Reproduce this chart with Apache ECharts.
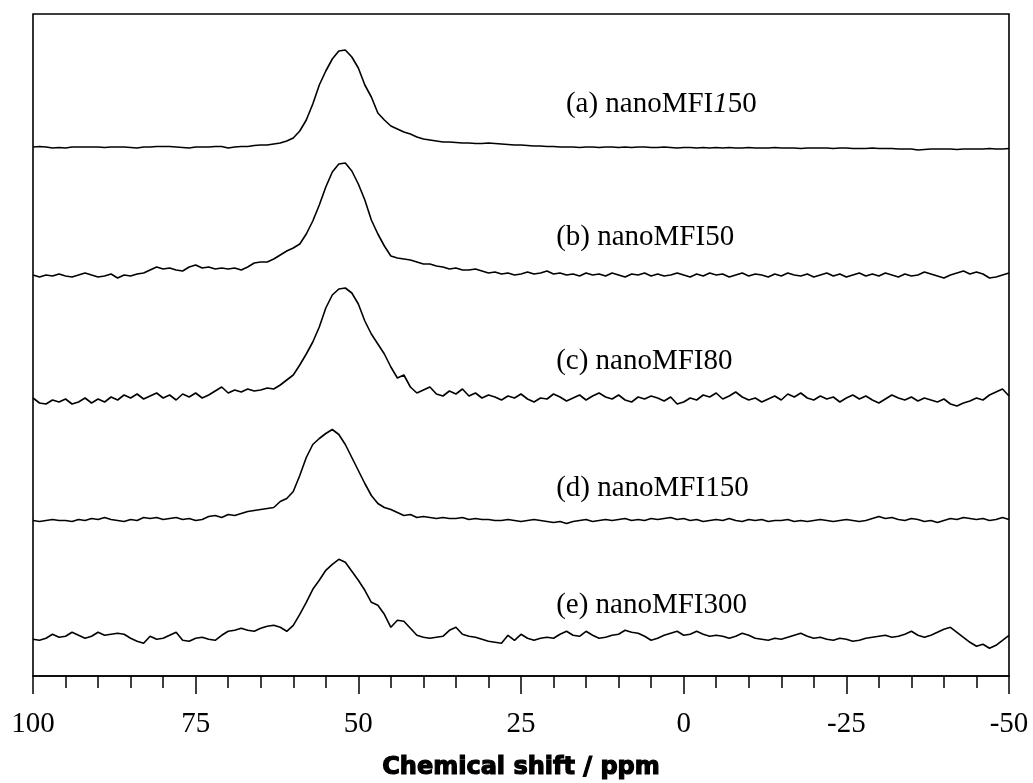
<!DOCTYPE html>
<html>
<head>
<meta charset="utf-8">
<title>NMR spectra</title>
<script src="https://cdn.jsdelivr.net/npm/echarts@6/dist/echarts.min.js"></script>
<style>
  html, body { margin: 0; padding: 0; background: #fff; }
  #chart { width: 1033px; height: 783px; }
</style>
</head>
<body>
<div id="chart"></div>
<script>
// chemical shift axis, 1 ppm steps from 100 down to -50
var ppm = [];
for (var p = 100; p >= -50; p--) ppm.push(p);

// intensities, relative to each trace's own baseline
var specA = [
  0, 0.5, 0, -1, -0.5, -1, 0, 0, 0, 0,
  0, -0.5, 0, 0, 0, -0.5, -1, 0, 0, 0.5,
  0.5, 0.5, 0, -0.5, -1, 0, 0, 0, 0.5, 0.5,
  -1, 0, 0.5, 0.5, 1.5, 2, 2, 3, 4, 6,
  9, 16, 27, 43, 62, 76, 88, 96, 97, 90,
  79, 62, 50, 34, 27, 21, 18, 15, 13, 10,
  8, 7, 6, 5, 5, 4.5, 4, 4, 3.5, 3.5,
  4, 3.5, 3, 2.5, 2, 2, 1.5, 1, 1, 0.5,
  0.5, 0, 0, 0, -0.5, 0, 0, -0.5, 0, 0,
  -0.5, 0, -0.5, 0, 0, -0.5, -0.5, 0, -0.5, -1,
  -0.5, -0.5, -1, -0.5, -1, -0.5, -1, -0.5, -1, -1,
  -0.5, -1, -1, -1, -0.5, -1, -1, -1, -1.5, -1,
  -1, -1, -1, -1.5, -1, -1, -1.5, -1.5, -1.5, -1,
  -1.5, -1.5, -1.5, -2, -2, -2, -3, -2.5, -2, -2,
  -2, -2, -2.5, -2, -2, -2, -2, -1.5, -2, -2,
  -1.5
];
var specB = [
  1, -1, 1, 0, 2, 0, -1, 1, 3, 1,
  -1, 0, 2, -2, 1, 0, 2, 3, 6, 9,
  7, 8, 6, 5, 9, 11, 8, 9, 7, 8,
  7, 8, 6, 9, 13, 14, 14, 17, 21, 25,
  28, 32, 42, 55, 71, 89, 104, 112, 113, 105,
  92, 76, 56, 42, 30, 20, 18, 17, 16, 14,
  12, 12, 10, 9, 7, 8, 6, 6, 7, 5,
  3, 4, 2, 3, 1, 2, 4, 2, 3, 5,
  2, 3, 1, 2, 0, 3, 1, 2, 0, 3,
  1, -1, 2, 1, 3, 0, 2, 0, 1, 3,
  1, -1, 2, 0, 3, 1, 2, -1, 1, 3,
  0, 2, 1, -1, 2, 0, 3, 1, 0, 2,
  -1, 1, 3, 0, 2, -1, 1, 3, 0, 2,
  0, 3, 1, -1, 2, 0, 1, 4, 2, 0,
  -2, 1, 3, 5, 2, 4, 2, -2, -1, 1,
  3
];
var specC = [
  2, -3, -4, 0, -2, 1, -4, -2, 2, -3,
  1, -2, 3, 0, 5, 2, 6, 1, 4, 7,
  2, 5, 0, 6, 3, 7, 2, 5, 9, 13,
  7, 10, 8, 11, 9, 10, 12, 11, 15, 20,
  25, 35, 46, 58, 73, 92, 105, 111, 112, 107,
  96, 79, 66, 56, 46, 33, 22, 25, 13, 7,
  10, 13, 6, 4, 9, 6, 11, 4, 7, 2,
  5, 3, 0, 4, 2, 6, 1, -2, 2, 1,
  6, 3, -1, 2, 5, 0, 4, 7, 3, 1,
  5, 0, -2, 3, 1, 4, 2, -1, 3, -4,
  -2, 2, 0, 5, 3, 7, 1, 4, 8, 3,
  0, 2, -2, 1, 4, 0, 6, 3, 7, 2,
  0, 4, 1, 3, -2, 2, 5, 1, 4, 0,
  -3, 1, 5, 2, 0, 3, -1, 2, 0, -2,
  1, -4, -6, -3, -1, 2, 0, 5, 8, 11,
  4
];
var specD = [
  0, -1, 0, 1, 0, 0, -1, 1, 0, 2,
  1, 3, 1, 0, -1, 1, 0, 3, 2, 3,
  1, 2, 3, 1, 2, 0, 1, 4, 5, 3,
  6, 5, 7, 9, 10, 11, 12, 13, 19, 22,
  29, 45, 63, 76, 82, 87, 91, 86, 76, 63,
  50, 37, 25, 17, 13, 11, 8, 5, 6, 3,
  4, 3, 2, 3, 2, 2, 3, 1, 2, 1,
  1, 0, 0, 1, 0, -1, 0, 1, 0, -1,
  -2, -1, -3, -1, 0, 1, -1, 0, 1, 0,
  1, 2, 0, 1, 0, 2, 1, 2, 3, 1,
  2, 0, 1, -1, 0, 1, 0, 2, 0, -1,
  1, 0, 1, -1, 0, 0, 1, -1, 0, -1,
  0, 1, 0, -1, 0, 1, 0, -1, 0, 2,
  4, 2, 3, 1, 0, 2, 1, -1, 0, -2,
  0, 2, 1, 3, 2, 1, 2, 0, 1, 3,
  1
];
var specE = [
  -1, -2, 0, 4, 1, 2, 6, 3, 0, 2,
  6, 3, 4, 5, 4, 0, -3, -5, 2, -1,
  0, 3, 6, -2, -3, 0, 1, -1, -2, 3,
  7, 8, 10, 8, 7, 10, 12, 13, 11, 7,
  13, 24, 36, 49, 58, 68, 74, 79, 76, 67,
  58, 48, 36, 33, 24, 11, 18, 17, 10, 3,
  1, 0, 1, 2, 8, 11, 4, 2, 1, -1,
  -3, -4, -5, 3, -2, 4, 0, -2, 0, 1,
  0, 4, 7, 3, 2, 7, 3, 0, 1, 3,
  4, 8, 6, 5, 2, -2, 0, 3, 5, 7,
  3, 4, 7, 4, 2, 3, 2, 0, 2, 5,
  3, 0, -1, -2, 0, -1, 1, 3, 5, 2,
  0, 1, -1, -2, 0, -1, -3, -2, 0, 1,
  2, 3, 1, 2, 4, 7, 3, 1, 3, 6,
  9, 11, 6, 1, -4, -8, -6, -10, -7, -2,
  3
];

var spectra = [specA, specB, specC, specD, specE];
var offsets = [529, 400, 276, 155.5, 37.7];          // vertical stacking of the traces
var names = ['(a) nanoMFI{i|1}50', '(b) nanoMFI50', '(c) nanoMFI80', '(d) nanoMFI150', '(e) nanoMFI300'];
var labelX = [18.1, 19.6, 19.6, 19.6, 19.6];           // ppm where each caption starts
var labelY = [572, 439, 315, 188, 71];

var serif = '"Liberation Serif", "Times New Roman", serif';

var series = spectra.map(function (s, k) {
  return {
    type: 'line',
    data: ppm.map(function (x, i) { return [x, offsets[k] + s[i]]; }),
    showSymbol: false,
    lineStyle: { color: '#000', width: 1.6 },
    silent: true,
    markPoint: {
      symbol: 'rect',
      symbolSize: 0,
      data: [{ coord: [labelX[k], labelY[k]] }],
      label: {
        show: true,
        position: 'right',
        distance: 0,
        formatter: names[k],
        color: '#000',
        fontFamily: serif,
        fontSize: 29,
        rich: { i: { fontStyle: 'italic', fontFamily: serif, fontSize: 29, color: '#000' } }
      }
    }
  };
});

var chart = echarts.init(document.getElementById('chart'));
chart.setOption({
  animation: false,
  backgroundColor: '#fff',
  grid: {
    left: 33, right: 24, top: 14, bottom: 107, outerBoundsMode: 'none',
    show: true, borderColor: '#000', borderWidth: 1.6
  },
  xAxis: {
    type: 'value',
    inverse: true,
    min: -50,
    max: 100,
    interval: 25,
    name: 'Chemical shift / ppm',
    nameLocation: 'middle',
    nameGap: 80,
    nameTextStyle: {
      fontFamily: '"DejaVu Sans", sans-serif', fontWeight: 'bold', fontSize: 24, color: '#000',
      textBorderColor: '#000', textBorderWidth: 1.2
    },
    axisLine: { lineStyle: { color: '#000', width: 1.6 } },
    axisTick: { length: 18, lineStyle: { color: '#000', width: 1.5 } },
    minorTick: { show: true, splitNumber: 5, length: 12, lineStyle: { color: '#000', width: 1.5 } },
    splitLine: { show: false },
    axisLabel: { margin: 34, fontFamily: serif, fontSize: 29, color: '#000' }
  },
  yAxis: {
    type: 'value',
    min: 0,
    max: 662,
    show: false
  },
  series: series
});
</script>
</body>
</html>
